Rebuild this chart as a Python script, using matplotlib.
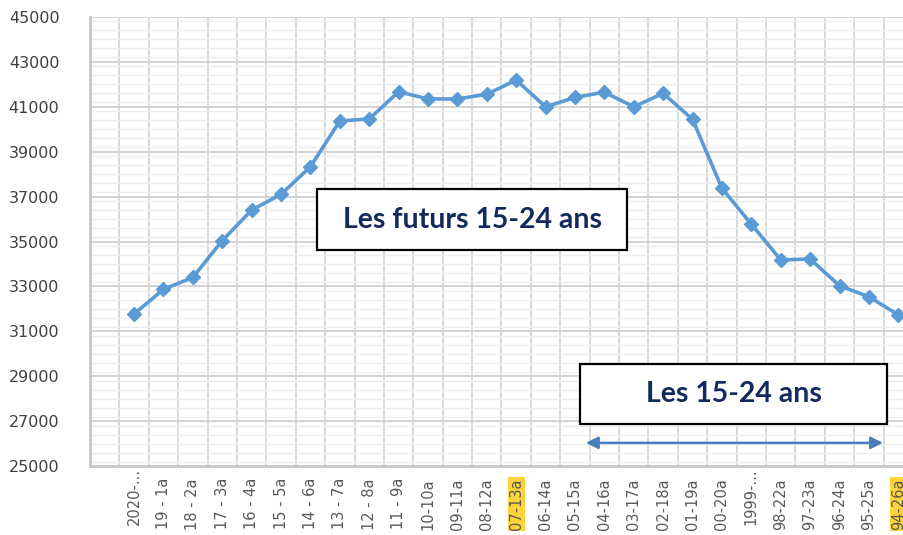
import matplotlib
matplotlib.use("Agg")
import matplotlib.pyplot as plt
from matplotlib.patches import Rectangle, FancyArrowPatch
from matplotlib.ticker import MultipleLocator
from matplotlib.transforms import blended_transform_factory, offset_copy

# Cohort labels (year of birth - age) and population counts
labels = ["2020-...", "19 - 1a", "18 - 2a", "17 - 3a", "16 - 4a", "15 - 5a",
          "14 - 6a", "13 - 7a", "12 - 8a", "11 - 9a", "10-10a", "09-11a",
          "08-12a", "07-13a", "06-14a", "05-15a", "04-16a", "03-17a",
          "02-18a", "01-19a", "00-20a", "1999-...", "98-22a", "97-23a",
          "96-24a", "95-25a", "94-26a"]
values = [31770, 32870, 33400, 35040, 36400, 37100, 38330, 40370, 40460,
          41670, 41350, 41350, 41560, 42190, 41000, 41420, 41650, 41000,
          41600, 40440, 37370, 35770, 34180, 34220, 33030, 32540, 31730]
highlighted = ["07-13a", "94-26a"]

yticks = list(range(25000, 45001, 2000))

fig = plt.figure(figsize=(9.04, 5.35), dpi=100)
ax = fig.add_axes([90 / 904, 69 / 535, 823 / 904, 449 / 535])

x = list(range(len(values)))
ax.plot(x, values, color="#5B9BD5", lw=2.6, marker="D", markersize=7,
        markerfacecolor="#5B9BD5", markeredgecolor="#5B9BD5", zorder=5,
        clip_on=False)

ax.set_xlim(-1.5, len(values) - 0.5)
ax.set_ylim(25000, 45000)

# Grid: category separators and major/minor horizontal lines
ax.set_xticks([i - 0.5 for i in range(len(values))], minor=True)
ax.set_xticks(x)
ax.set_xticklabels([])
ax.set_yticks(yticks)
ax.yaxis.set_minor_locator(MultipleLocator(400))
ax.grid(which="minor", axis="x", color="#D9D9D9", lw=1.4)
ax.grid(which="major", axis="y", color="#D3D3D3", lw=1.4)
ax.grid(which="minor", axis="y", color="#EDEDED", lw=1.0)
ax.set_axisbelow(True)

for side in ("top", "right"):
    ax.spines[side].set_visible(False)
for side in ("left", "bottom"):
    ax.spines[side].set_color("#C8C8C8")
    ax.spines[side].set_linewidth(2)

ax.tick_params(axis="both", which="both", length=0)
ax.tick_params(axis="y", pad=22, labelsize=11.5, labelcolor="#404040")
ax.set_yticklabels([str(v) for v in yticks])

# Rotated category labels under the axis
base = blended_transform_factory(ax.transData, ax.transAxes)
for i, lab in enumerate(labels):
    drop = -2 if lab.endswith("...") else -12
    tr = offset_copy(base, fig=fig, x=0, y=drop, units="dots")
    t = ax.text(i, 0, lab, transform=tr, rotation=90, fontsize=10.5,
                color="#595959", ha="center", va="top", clip_on=False)
    if lab in highlighted:
        t.set_bbox(dict(facecolor="#FFD43B", edgecolor="none", pad=0.8))

# Annotation boxes
fig.patches.append(Rectangle((317 / 904, (535 - 250) / 535), 310 / 904, 61 / 535,
                             transform=fig.transFigure, facecolor="white",
                             edgecolor="black", lw=1.6, zorder=10))
fig.text(473 / 904, 1 - 219.5 / 535, "Les futurs 15-24 ans", fontsize=20.5,
         fontweight="bold", family="Lato", color="#132A5E",
         ha="center", va="center", zorder=11)

fig.patches.append(Rectangle((580 / 904, (535 - 424) / 535), 307 / 904, 60 / 535,
                             transform=fig.transFigure, facecolor="white",
                             edgecolor="black", lw=1.6, zorder=10))
fig.text(734 / 904, 1 - 394 / 535, "Les 15-24 ans", fontsize=20.5,
         fontweight="bold", family="Lato", color="#132A5E",
         ha="center", va="center", zorder=11)

arrow = FancyArrowPatch((15.37, 26030), (25.48, 26030), arrowstyle="<|-|>",
                        mutation_scale=18, color="#4A7EBB", lw=1.8,
                        shrinkA=0, shrinkB=0, clip_on=False, zorder=6)
ax.add_patch(arrow)

fig.savefig("out.png", dpi=100)
